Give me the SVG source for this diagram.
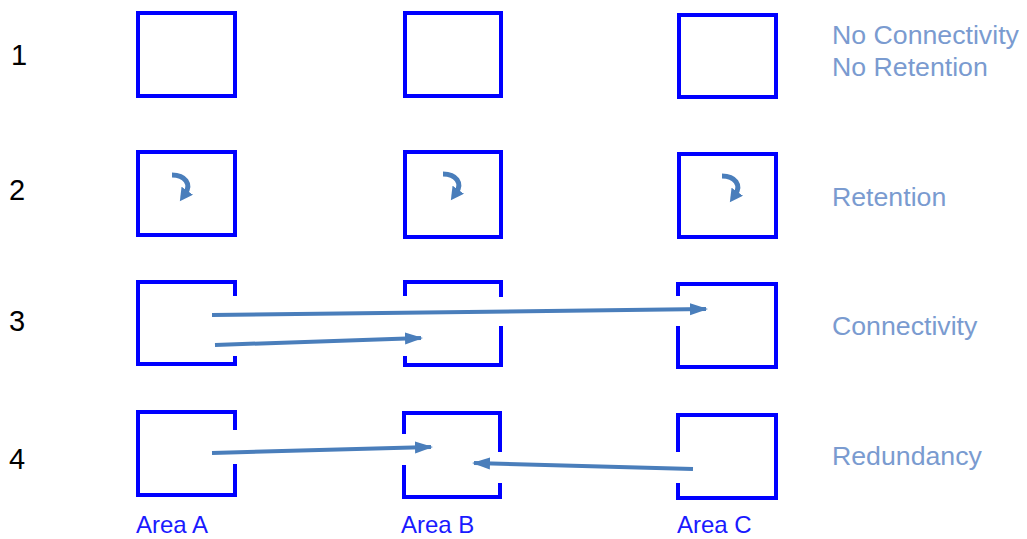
<svg xmlns="http://www.w3.org/2000/svg" width="1027" height="539" viewBox="0 0 1027 539">
<defs>
<marker id="ah" markerUnits="userSpaceOnUse" markerWidth="18" markerHeight="14" viewBox="0 0 18 14" refX="16" refY="7" orient="auto">
<path d="M0,1 L18,7 L0,13 Z" fill="#4a7ebb"/>
</marker>
<marker id="ch" markerUnits="userSpaceOnUse" markerWidth="14" markerHeight="14" viewBox="0 0 14 14" refX="4" refY="7" orient="auto">
<path d="M0,0 L13,7 L0,14 Z" fill="#4a7ebb"/>
</marker>
</defs>
<style>
.box{fill:none;stroke:#0000ff;stroke-width:4;stroke-linecap:square}
.num{font-family:"Liberation Sans",Arial,sans-serif;font-size:29px;fill:#000}
.lbl{font-family:"Liberation Sans",Arial,sans-serif;font-size:26.7px;fill:#7a9bd0}
.area{font-family:"Liberation Sans",Arial,sans-serif;font-size:24px;fill:#1a1aff}
.conn{fill:none;stroke:#4a7ebb;stroke-width:4;marker-end:url(#ah)}
.curl{fill:none;stroke:#4a7ebb;stroke-width:5;marker-end:url(#ch)}
</style>
<rect width="1027" height="539" fill="#fff"/>
<g id="row-numbers">
<text class="num" x="11" y="65">1</text>
<text class="num" x="9" y="200">2</text>
<text class="num" x="9" y="331">3</text>
<text class="num" x="9" y="469">4</text>
</g>
<g id="labels">
<text class="lbl" x="832" y="44">No Connectivity</text>
<text class="lbl" x="832" y="76">No Retention</text>
<text class="lbl" x="832" y="206">Retention</text>
<text class="lbl" x="832" y="335">Connectivity</text>
<text class="lbl" x="832" y="465">Redundancy</text>
</g>
<g id="area-labels">
<text class="area" x="136" y="533">Area A</text>
<text class="area" x="401" y="533">Area B</text>
<text class="area" x="677" y="533">Area C</text>
</g>
<g id="row1-A"><rect class="box" x="138" y="13" width="97" height="83"/></g>
<g id="row1-B"><rect class="box" x="405" y="13" width="96" height="83"/></g>
<g id="row1-C"><rect class="box" x="679" y="15" width="97" height="82"/></g>
<g id="row2-A"><rect class="box" x="138" y="152" width="97" height="83"/>
<path class="curl" d="M172,175 C185,175 192,184 185,194"/></g>
<g id="row2-B"><rect class="box" x="405" y="152" width="96" height="85"/>
<path class="curl" d="M443,174 C456,174 463,183 456,193"/></g>
<g id="row2-C"><rect class="box" x="679" y="154" width="97" height="83"/>
<path class="curl" d="M722,176 C735,176 742,185 735,195"/></g>
<g id="row3-A"><path class="box" d="M235,294 V282 H138 V364 H235 V358"/></g>
<g id="row3-B"><path class="box" d="M405,294 V282 H501 V295 M501,328 V365 H405 V358"/></g>
<g id="row3-C"><path class="box" d="M678,294 V284 H776 V367 H678 V328"/></g>
<g id="row4-A"><path class="box" d="M235,428 V412 H138 V495 H235 V466"/></g>
<g id="row4-B"><path class="box" d="M404,432 V413 H500 V450 M500,485 V497 H404 V467"/></g>
<g id="row4-C"><path class="box" d="M678,450 V415 H776 V498 H678 V485"/></g>
<g id="connectors">
<path class="conn" d="M212,315 L706,309"/>
<path class="conn" d="M215,345 L421,338"/>
<path class="conn" d="M212,453 L431,447"/>
<path class="conn" d="M693,469 L474,463"/>
</g>
</svg>
